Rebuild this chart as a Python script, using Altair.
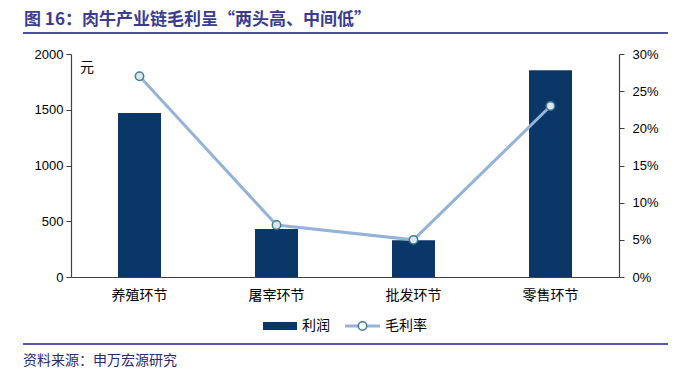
import altair as alt
import pandas as pd

categories = ["养殖环节", "屠宰环节", "批发环节", "零售环节"]
profit = [1470, 430, 330, 1855]
margin = [0.27, 0.07, 0.05, 0.23]

title_text = "图 16：肉牛产业链毛利呈“两头高、中间低”"
source_text = "资料来源：申万宏源研究"
unit_text = "元"
legend_bar = "利润"
legend_line = "毛利率"

df = pd.DataFrame({"环节": categories, "利润": profit, "毛利率": margin})
one = pd.DataFrame({"k": [0]})

CJK = "Noto Sans CJK SC"
LAT = "Liberation Sans"
BAR_C = "#0b3768"
LINE_C = "#95b3d7"
MARK_C = "#3f7f8c"

xenc = alt.X("环节:N", sort=categories, title=None,
             scale=alt.Scale(paddingInner=0, paddingOuter=0),
             axis=alt.Axis(labelAngle=0, labelFont=CJK, labelFontSize=14, labelColor="#000000",
                           labelPadding=11, ticks=False, domainColor="#404040", domainWidth=1.2))

bars = alt.Chart(df).mark_bar(size=43, color=BAR_C).encode(
    x=xenc,
    y=alt.Y("利润:Q", title=None,
            scale=alt.Scale(domain=[0, 2000]),
            axis=alt.Axis(values=[0, 500, 1000, 1500, 2000], format="d", grid=False, labelFont=LAT,
                          labelFontSize=13, labelColor="#000000", tickSize=5, labelPadding=3,
                          domainColor="#404040", tickColor="#404040", domainWidth=1.2)),
)

line = alt.Chart(df).mark_line(color=LINE_C, strokeWidth=3).encode(
    x=alt.X("环节:N", sort=categories),
    y=alt.Y("毛利率:Q", title=None,
            scale=alt.Scale(domain=[0, 0.3]),
            axis=alt.Axis(orient="right", values=[0, 0.05, 0.1, 0.15, 0.2, 0.25, 0.3], format=".0%",
                          grid=False, labelFont=LAT, labelFontSize=13, labelColor="#000000",
                          tickSize=5, labelPadding=8, domainColor="#404040", tickColor="#404040",
                          domainWidth=1.2)),
)
points = alt.Chart(df).mark_point(shape="circle", filled=False, size=70, stroke=MARK_C,
                                  strokeWidth=1.5, fill="#dde7f3", fillOpacity=1, opacity=1).encode(
    x=alt.X("环节:N", sort=categories),
    y=alt.Y("毛利率:Q", scale=alt.Scale(domain=[0, 0.3]), axis=None),
)

base = alt.Chart(one)

unit = base.mark_text(text=unit_text, font=CJK, fontSize=14, color="#000000",
                      align="left", baseline="middle").encode(x=alt.value(9), y=alt.value(14))

title = base.mark_text(text=title_text, font=CJK, fontSize=17, fontWeight="bold", color="#3c3c8e",
                       align="left", baseline="middle").encode(x=alt.value(-47), y=alt.value(-34))
title_rule = base.mark_rule(color="#4f4f9f", strokeWidth=2).encode(
    x=alt.value(-48), x2=alt.value(597), y=alt.value(-21))
src_rule = base.mark_rule(color="#1f1f8f", strokeWidth=1.5).encode(
    x=alt.value(-48), x2=alt.value(597), y=alt.value(290))
source = base.mark_text(text=source_text, font=CJK, fontSize=14, color="#2a2a6a",
                        align="left", baseline="middle").encode(x=alt.value(-48), y=alt.value(307))

leg_rect = base.mark_rect(color=BAR_C).encode(
    x=alt.value(192), x2=alt.value(226), y=alt.value(268), y2=alt.value(276))
leg_t1 = base.mark_text(text=legend_bar, font=CJK, fontSize=14, color="#000000",
                        align="left", baseline="middle").encode(x=alt.value(231), y=alt.value(272))
leg_line = base.mark_rule(color=LINE_C, strokeWidth=3).encode(
    x=alt.value(274), x2=alt.value(309), y=alt.value(272))
leg_pt = base.mark_point(shape="circle", size=70, stroke=MARK_C, strokeWidth=1.5, fill="#ffffff",
                         fillOpacity=1, opacity=1).encode(x=alt.value(291.5), y=alt.value(272))
leg_t2 = base.mark_text(text=legend_line, font=CJK, fontSize=14, color="#000000",
                        align="left", baseline="middle").encode(x=alt.value(314), y=alt.value(272))

chart = alt.layer(
    bars, line, points, unit, title, title_rule, src_rule, source,
    leg_rect, leg_t1, leg_line, leg_pt, leg_t2
).resolve_scale(y="independent").properties(
    width=548, height=223,
    padding={"left": 63, "top": 46, "right": 60, "bottom": 94},
    autosize=alt.AutoSizeParams(type="none"),
    background="#ffffff",
).configure_view(stroke=None)

chart.save("out.html", embed_options={"renderer": "svg", "actions": False})
